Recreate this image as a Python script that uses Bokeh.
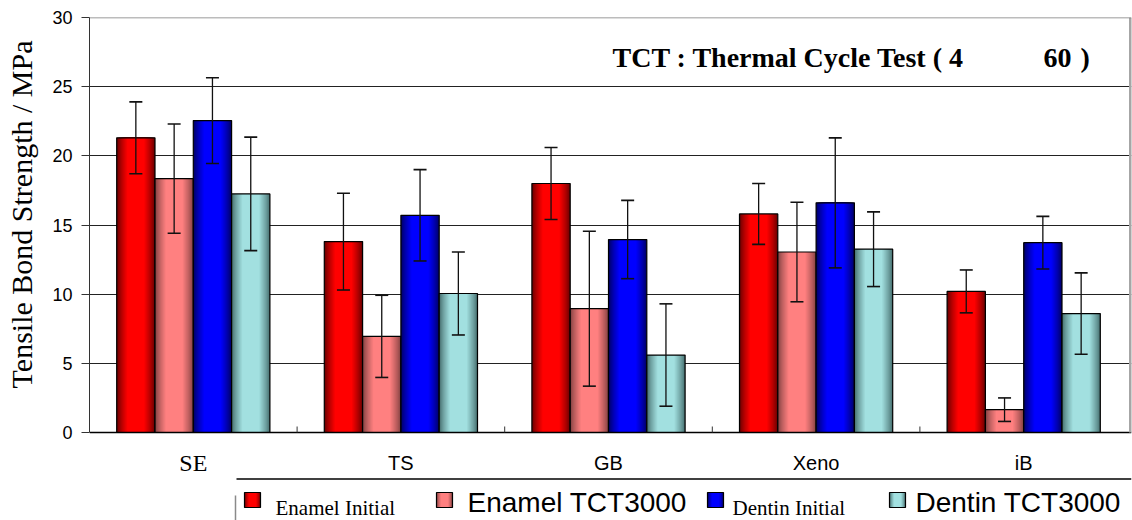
from bokeh.plotting import figure
from bokeh.models import Range1d, FixedTicker, Whisker, TeeHead, ColumnDataSource, Title
from bokeh.embed import file_html
from bokeh.resources import INLINE
from bokeh.core.properties import value

# ---------------- data ----------------
categories = ["SE", "TS", "GB", "Xeno", "iB"]
series_names = ["Enamel Initial", "Enamel TCT3000", "Dentin Initial", "Dentin TCT3000"]
enamel_initial = [21.3, 13.8, 18.0, 15.8, 10.2]
enamel_initial_sd = [2.6, 3.5, 2.6, 2.2, 1.55]
enamel_tct3000 = [18.35, 6.95, 8.95, 13.05, 1.65]
enamel_tct3000_sd = [3.95, 2.97, 5.6, 3.6, 0.85]
dentin_initial = [22.55, 15.7, 13.95, 16.6, 13.72]
dentin_initial_sd = [3.1, 3.3, 2.83, 4.7, 1.9]
dentin_tct3000 = [17.25, 10.05, 5.6, 13.25, 8.6]
dentin_tct3000_sd = [4.1, 3.0, 3.7, 2.7, 2.94]
y_ticks = [0, 5, 10, 15, 20, 25, 30]
y_label = "Tensile Bond Strength / MPa"
title_parts = ["TCT : Thermal Cycle Test ( 4", "60", ")"]

means = [enamel_initial, enamel_tct3000, dentin_initial, dentin_tct3000]
sds = [enamel_initial_sd, enamel_tct3000_sd, dentin_initial_sd, dentin_tct3000_sd]

# ---------------- styles / layout ----------------
edge_cols = ["#6a0000", "#844242", "#000066", "#477070"]
mid_cols = ["#ff0000", "#ff8080", "#0000ff", "#a2e0e0"]
N_LAYERS = 11
layer_w = [1.0 - 0.55 * i / (N_LAYERS - 1) for i in range(N_LAYERS)]
layer_t = [(i / (N_LAYERS - 1)) ** 0.8 for i in range(N_LAYERS)]
BAR_W = 0.1845
OFFSETS = [-1.5, -0.5, 0.5, 1.5]
PX_PER_UNIT = 415 / 30.0
GROUP_PX = 207.6
FRAME_L, FRAME_T, ZERO_Y, W, H = 89, 17, 432, 1132, 520

SANS = "Liberation Sans"
SERIF = "Liberation Serif"


def mix(c1, c2, t):
    a = [int(c1[i:i + 2], 16) for i in (1, 3, 5)]
    b = [int(c2[i:i + 2], 16) for i in (1, 3, 5)]
    return "#%02x%02x%02x" % tuple(round(a[j] + (b[j] - a[j]) * t) for j in range(3))


def dx(sx):  # page pixel -> data x (for annotations only)
    return 0.5 + (sx - FRAME_L) / GROUP_PX


def dy(sy):  # page pixel -> data y (for annotations only)
    return (ZERO_Y - sy) / PX_PER_UNIT


y_low = dy(H)
x_high = dx(W - 1)

p = figure(width=W, height=H, x_range=Range1d(0.5, x_high), y_range=Range1d(y_low, 30),
           toolbar_location=None, output_backend="svg", x_axis_location=None,
           min_border_left=FRAME_L, min_border_right=1, min_border_top=FRAME_T,
           min_border_bottom=0)
p.background_fill_color = "white"
p.border_fill_color = "white"
p.outline_line_color = None

xpos = [i + 1 for i in range(len(categories))]

for k in range(4):
    xs = [x + OFFSETS[k] * BAR_W for x in xpos]
    for lw, t in zip(layer_w, layer_t):
        p.vbar(x=xs, top=means[k], bottom=0, width=BAR_W * lw,
               fill_color=mix(edge_cols[k], mid_cols[k], t), line_color=None)
    p.vbar(x=xs, top=means[k], bottom=0, width=BAR_W, fill_color=None,
           line_color="black", line_width=1.2)
    src = ColumnDataSource(dict(base=xs,
                                upper=[m + s for m, s in zip(means[k], sds[k])],
                                lower=[m - s for m, s in zip(means[k], sds[k])]))
    p.add_layout(Whisker(source=src, base="base", upper="upper", lower="lower",
                         line_color="#111111", line_width=1.3, level="overlay",
                         upper_head=TeeHead(size=13, line_color="#111111", line_width=1.6),
                         lower_head=TeeHead(size=13, line_color="#111111", line_width=1.6)))

# y axis
p.yaxis.ticker = FixedTicker(ticks=y_ticks)
p.yaxis.bounds = (0, 30)
p.yaxis.major_label_text_font = SANS
p.yaxis.major_label_text_font_size = "18px"
p.yaxis.major_label_text_color = "black"
p.yaxis.major_label_standoff = 9
p.yaxis.major_tick_out = 8
p.yaxis.major_tick_in = 0
p.yaxis.minor_tick_line_color = None
p.yaxis.axis_line_color = "#333333"
p.yaxis.major_tick_line_color = "#333333"
# tiny blank axis label: only keeps a gap between tick labels and the y title
p.yaxis.axis_label = " "
p.yaxis.axis_label_text_font_size = "2px"
p.yaxis.axis_label_standoff = 5

# y-axis title, positioned along the 0..30 span (not the whole frame)
ytitle_kw = dict(text=y_label, align="right", offset=23, vertical_align="bottom",
                 text_font=SERIF, text_font_size="30px", text_font_style="normal",
                 text_color="black")
try:
    ytitle = Title(standoff=4, **ytitle_kw)
except AttributeError:
    ytitle = Title(**ytitle_kw)
p.add_layout(ytitle, "left")

p.xgrid.grid_line_color = None
p.ygrid.ticker = FixedTicker(ticks=y_ticks[1:])
p.ygrid.grid_line_color = "#222222"
p.ygrid.grid_line_width = 1

# bottom axis line, boundary ticks, top and right border
p.segment(x0=[0.5], y0=[0], x1=[x_high], y1=[0], line_color="black", line_width=1.6)
bounds_x = [x + 0.5 for x in xpos[:-1]]
p.segment(x0=bounds_x, y0=[0] * len(bounds_x), x1=bounds_x,
          y1=[6 / PX_PER_UNIT] * len(bounds_x), line_color="#333333", line_width=1)
p.segment(x0=[dx(1130)], y0=[0], x1=[dx(1130)], y1=[30], line_color="#a6a6a6", line_width=3)
p.segment(x0=[0.5], y0=[30], x1=[x_high], y1=[30], line_color="#7a7a7a", line_width=1.6)

# category labels (SE is set in a serif face in the original)
p.text(x=xpos[:1], y=[dy(462)], text=categories[:1], text_font=value(SERIF),
       text_font_size=value("24px"), text_align="center", text_baseline="middle",
       text_color="black")
p.text(x=xpos[1:], y=[dy(462)] * (len(xpos) - 1), text=categories[1:], text_font=value(SANS),
       text_font_size=value("20px"), text_align="center", text_baseline="middle",
       text_color="black")

# title texts
title_sx = [612, 1043, 1080]
p.text(x=[dx(s) for s in title_sx], y=[dy(57)] * 3, text=title_parts, text_font=value(SERIF),
       text_font_size=value("28px"), text_font_style="bold", text_align="left",
       text_baseline="middle", text_color="black")

# ---------------- legend ----------------
p.segment(x0=[dx(236)], y0=[dy(478.5)], x1=[x_high], y1=[dy(478.5)],
          line_color="black", line_width=1.5)
p.segment(x0=[dx(235)], y0=[dy(495)], x1=[dx(235)], y1=[y_low],
          line_color="#8a8a8a", line_width=1.5)

sw_left = [244, 436, 707, 889]
sw_w, sw_top, sw_bot = 16, 492, 507
txt_x = [275, 467, 732, 915]
txt_y = [507, 502, 507, 502]
txt_font = [SERIF, SANS, SERIF, SANS]
txt_size = ["21px", "28px", "21px", "28px"]
for k in range(4):
    c = sw_left[k] + sw_w / 2
    for lw, t in zip(layer_w, layer_t):
        p.quad(left=[dx(c - sw_w * lw / 2)], right=[dx(c + sw_w * lw / 2)],
               top=[dy(sw_top)], bottom=[dy(sw_bot)],
               fill_color=mix(edge_cols[k], mid_cols[k], t), line_color=None)
    p.quad(left=[dx(sw_left[k])], right=[dx(sw_left[k] + sw_w)], top=[dy(sw_top)],
           bottom=[dy(sw_bot)], fill_color=None, line_color="black", line_width=1.2)
    p.text(x=[dx(txt_x[k])], y=[dy(txt_y[k])], text=[series_names[k]],
           text_font=value(txt_font[k]), text_font_size=value(txt_size[k]),
           text_align="left", text_baseline="middle", text_color="black")

open("out.html", "w").write(file_html(p, INLINE))
